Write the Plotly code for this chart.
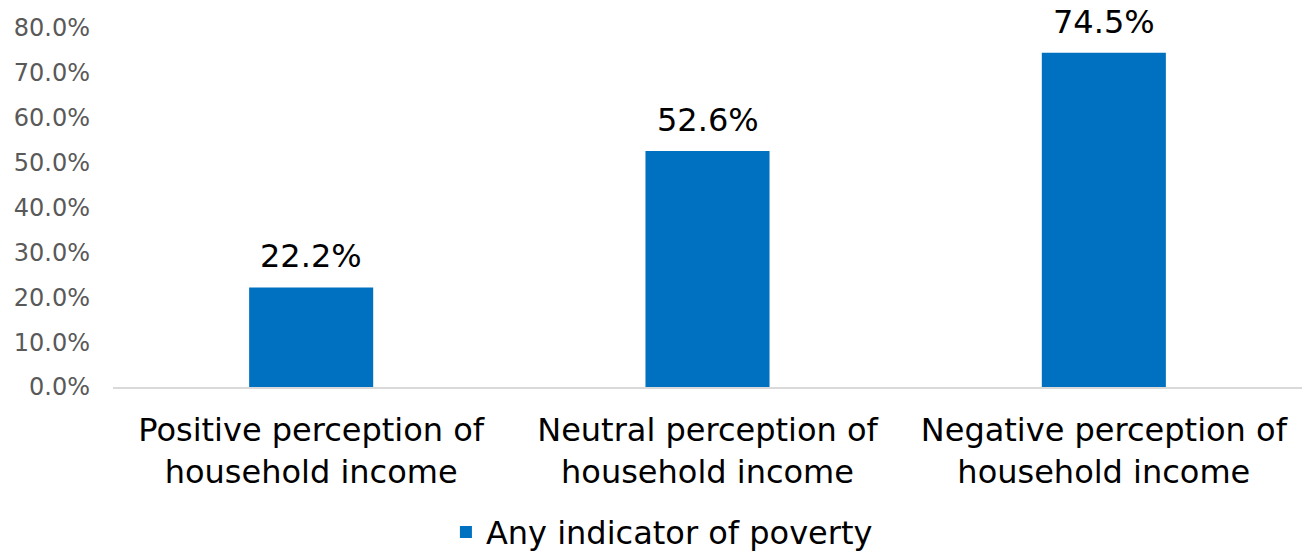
import plotly.graph_objects as go

# Share of households with any indicator of poverty, by perception of income
categories = [
    "Positive perception of<br>household income",
    "Neutral perception of<br>household income",
    "Negative perception of<br>household income",
]
poverty_share = [22.2, 52.6, 74.5]
series_name = "Any indicator of poverty"

y_ticks = [0, 10, 20, 30, 40, 50, 60, 70, 80]
y_tick_labels = [f"{v:.1f}%" for v in y_ticks]

FONT = "DejaVu Sans, Verdana, sans-serif"
BAR_COLOR = "#0070C0"

fig = go.Figure(
    go.Bar(
        x=categories,
        y=poverty_share,
        name=series_name,
        marker=dict(color=BAR_COLOR, line=dict(width=0)),
        width=0.313,
        cliponaxis=False,
        showlegend=True,
    )
)

# value labels above each bar
for cat, val in zip(categories, poverty_share):
    fig.add_annotation(
        x=cat,
        y=val,
        text=f"{val:.1f}%",
        showarrow=False,
        xanchor="center",
        yanchor="bottom",
        yshift=10,
        font=dict(family=FONT, size=32, color="#000000"),
    )

fig.update_layout(
    width=1309,
    height=552,
    margin=dict(l=113, r=7, t=28, b=165, autoexpand=False),
    paper_bgcolor="white",
    plot_bgcolor="white",
    font=dict(family=FONT, color="#000000"),
    bargap=0.687,
    showlegend=True,
    legend=dict(
        orientation="h",
        x=0.28,
        xanchor="left",
        yref="container",
        y=0.036,
        yanchor="middle",
        font=dict(family=FONT, size=32, color="#000000"),
        bgcolor="rgba(0,0,0,0)",
    ),
    xaxis=dict(
        showgrid=False,
        showline=True,
        linecolor="#D9D9D9",
        linewidth=1.5,
        ticks="",
        automargin=False,
        tickfont=dict(family=FONT, size=32, color="#000000"),
        ticklabelstandoff=14,
    ),
    yaxis=dict(
        range=[0, 80],
        tickvals=y_ticks,
        ticktext=y_tick_labels,
        showgrid=False,
        zeroline=False,
        showline=False,
        ticks="",
        automargin=False,
        tickfont=dict(family=FONT, size=24, color="#595959"),
        ticklabelstandoff=22,
    ),
)

fig.write_html("out.html")
